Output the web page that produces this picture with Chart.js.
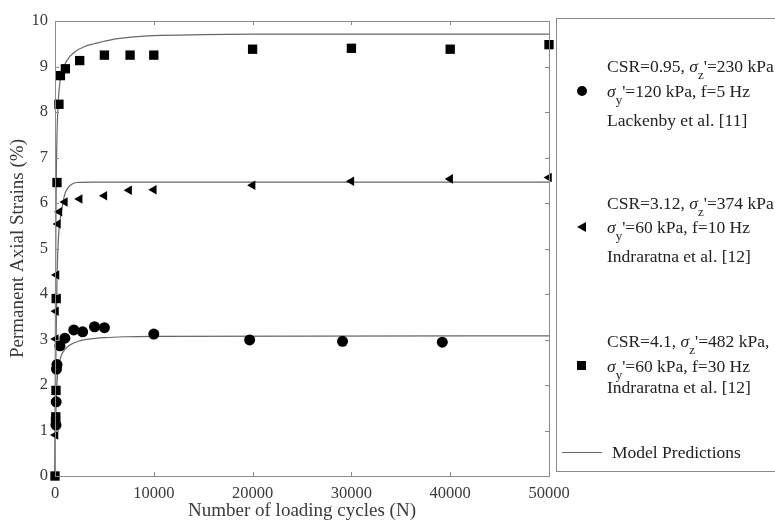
<!DOCTYPE html>
<html>
<head>
<meta charset="utf-8">
<script src="https://cdn.jsdelivr.net/npm/chart.js@4.4.1/dist/chart.umd.min.js"></script>
<style>
    body { margin: 0; background: #fff; overflow: hidden; }
    #wrap { position: relative; width: 775px; height: 522px; overflow: hidden; font-family: "Liberation Serif", "Times New Roman", serif; color: #222; }
    #graphique { position: absolute; left: 0; top: 0; }
    #legende { position: absolute; left: 556px; top: 18px; width: 219px; height: 454px; border: 1px solid #8a8a8a; border-right: none; box-sizing: border-box; }
    .ligne { position: absolute; left: 607px; font-size: 17.5px; line-height: 20px; white-space: nowrap; }
    .ligne sub { font-size: 13px; vertical-align: -7px; line-height: 0; }
    .rond { position: absolute; width: 10px; height: 10px; border-radius: 50%; background: #000; }
    .carre { position: absolute; width: 9px; height: 9px; background: #000; }
    .triangle { position: absolute; width: 0; height: 0; border-top: 5px solid transparent; border-bottom: 5px solid transparent; border-right: 9px solid #000; }
    .trait { position: absolute; height: 0; border-top: 1.3px solid #666; }
</style>
</head>
<body>
<div id="wrap">
    <canvas id="graphique" width="775" height="522"></canvas>
    <div id="legende"></div>

    <!-- Lackenby -->
    <div class="ligne" style="top:56px">CSR=0.95, <i>σ</i><sub>z</sub>'=230 kPa</div>
    <div class="rond" style="left:577px; top:86px"></div>
    <div class="ligne" style="top:81px"><i>σ</i><sub>y</sub>'=120 kPa, f=5 Hz</div>
    <div class="ligne" style="top:110px">Lackenby et al. [11]</div>

    <!-- Indraratna 10 Hz -->
    <div class="ligne" style="top:193px">CSR=3.12, <i>σ</i><sub>z</sub>'=374 kPa</div>
    <div class="triangle" style="left:577px; top:222px"></div>
    <div class="ligne" style="top:217px"><i>σ</i><sub>y</sub>'=60 kPa, f=10 Hz</div>
    <div class="ligne" style="top:246px">Indraratna et al. [12]</div>

    <!-- Indraratna 30 Hz -->
    <div class="ligne" style="top:331px">CSR=4.1, <i>σ</i><sub>z</sub>'=482 kPa,</div>
    <div class="carre" style="left:577px; top:361px"></div>
    <div class="ligne" style="top:356px"><i>σ</i><sub>y</sub>'=60 kPa, f=30 Hz</div>
    <div class="ligne" style="top:377px">Indraratna et al. [12]</div>

    <div class="trait" style="left:562px; top:452px; width:40px"></div>
    <div class="ligne" style="left:612px; top:442px">Model Predictions</div>
</div>

<script>
// ---------------- DONNÉES ---------------- //
// Lackenby et al. [11] - CSR=0.95 (ronds)
const cyclesLackenby = [100, 120, 150, 200, 500, 1000, 1900, 2800, 4000, 5000, 10000, 19700, 29100, 39200];
const strainsLackenby = [1.12, 1.63, 2.35, 2.45, 2.86, 3.03, 3.21, 3.17, 3.28, 3.26, 3.12, 2.99, 2.96, 2.94];

// Indraratna et al. [12] - CSR=3.12 (triangles)
const cyclesIndra10 = [50, 80, 100, 150, 300, 450, 1000, 2500, 5000, 7500, 10000, 20000, 30000, 40000, 50000];
const strainsIndra10 = [0.9, 3.01, 3.62, 4.42, 5.54, 5.81, 6.02, 6.09, 6.16, 6.28, 6.29, 6.39, 6.48, 6.53, 6.56];

// Indraratna et al. [12] - CSR=4.1 (carrés)
const cyclesIndra30 = [0, 50, 80, 100, 120, 200, 400, 550, 1050, 2500, 5000, 7600, 10000, 20000, 30000, 40000, 50000];
const strainsIndra30 = [0, 1.2, 1.3, 1.88, 3.9, 6.45, 8.17, 8.8, 8.95, 9.13, 9.25, 9.25, 9.25, 9.38, 9.4, 9.38, 9.48];

// Prédictions du modèle
const modelCyclesLow = [0, 50, 100, 200, 300, 500, 700, 1000, 1500, 2500, 3500, 5000, 7000, 10000, 50000];
const modelStrainsLow = [0, 0.9, 1.5, 2.05, 2.3, 2.55, 2.68, 2.78, 2.88, 2.97, 3.01, 3.04, 3.06, 3.07, 3.08];

const modelCyclesMid = [0, 50, 100, 200, 300, 400, 600, 800, 1000, 1300, 1700, 2200, 4000, 50000];
const modelStrainsMid = [0, 1.5, 2.8, 4.3, 5.0, 5.4, 5.75, 6.0, 6.2, 6.33, 6.41, 6.45, 6.46, 6.46];

const modelCyclesHigh = [0, 30, 60, 100, 150, 200, 300, 400, 600, 800, 1000, 1500, 2000, 3000, 4000, 6000, 8000, 10000, 15000, 20000, 50000];
const modelStrainsHigh = [0, 2.5, 4.3, 5.8, 6.9, 7.5, 8.1, 8.45, 8.8, 8.95, 9.05, 9.22, 9.32, 9.44, 9.5, 9.6, 9.65, 9.68, 9.7, 9.71, 9.71];

const xTicks = [0, 10000, 20000, 30000, 40000, 50000];
const yTicks = [0, 1, 2, 3, 4, 5, 6, 7, 8, 9, 10];

function toPoints(xs, ys) {
    return xs.map((x, i) => ({ x: x, y: ys[i] }));
}

const police = 'Liberation Serif';
const gris = '#8a8a8a';

// Cadre + graduations vers l'intérieur (style MATLAB)
const cadrePlugin = {
    id: 'cadre',
    afterDraw(chart) {
        const ctx = chart.ctx;
        const a = chart.chartArea;
        const sx = chart.scales.x;
        const sy = chart.scales.y;
        ctx.save();
        ctx.strokeStyle = gris;
        ctx.lineWidth = 1;
        ctx.strokeRect(Math.round(a.left) + 0.5, Math.round(a.top) + 0.5, Math.round(a.right - a.left), Math.round(a.bottom - a.top));
        ctx.beginPath();
        xTicks.forEach(v => {
            const px = Math.round(sx.getPixelForValue(v)) + 0.5;
            ctx.moveTo(px, a.bottom); ctx.lineTo(px, a.bottom - 4);
            ctx.moveTo(px, a.top); ctx.lineTo(px, a.top + 4);
        });
        yTicks.forEach(v => {
            const py = Math.round(sy.getPixelForValue(v)) + 0.5;
            ctx.moveTo(a.left, py); ctx.lineTo(a.left + 4, py);
            ctx.moveTo(a.right, py); ctx.lineTo(a.right - 4, py);
        });
        ctx.stroke();
        ctx.restore();
    }
};

const styleModele = {
    type: 'line',
    showLine: true,
    borderColor: '#666',
    borderWidth: 1.2,
    pointRadius: 0,
    fill: false,
    cubicInterpolationMode: 'monotone',
    order: 2
};

new Chart(document.getElementById('graphique').getContext('2d'), {
    type: 'scatter',
    data: {
        datasets: [
            { label: 'Lackenby', data: toPoints(cyclesLackenby, strainsLackenby), pointStyle: 'circle', pointRadius: 5.5, backgroundColor: '#000', borderColor: '#000', borderWidth: 0, order: 1 },
            { label: 'Indraratna 10 Hz', data: toPoints(cyclesIndra10, strainsIndra10), pointStyle: 'triangle', pointRotation: -90, pointRadius: 5.5, backgroundColor: '#000', borderColor: '#000', borderWidth: 0, order: 1 },
            { label: 'Indraratna 30 Hz', data: toPoints(cyclesIndra30, strainsIndra30), pointStyle: 'rect', pointRadius: 6.6, backgroundColor: '#000', borderColor: '#000', borderWidth: 0, order: 1 },
            Object.assign({ label: 'Modèle 1', data: toPoints(modelCyclesLow, modelStrainsLow) }, styleModele),
            Object.assign({ label: 'Modèle 2', data: toPoints(modelCyclesMid, modelStrainsMid) }, styleModele),
            Object.assign({ label: 'Modèle 3', data: toPoints(modelCyclesHigh, modelStrainsHigh) }, styleModele)
        ]
    },
    options: {
        responsive: false,
        animation: false,
        clip: false,
        layout: { padding: { left: 0, top: 21, right: 226, bottom: 0 } },
        plugins: {
            legend: { display: false },
            tooltip: { enabled: false }
        },
        scales: {
            x: {
                type: 'linear',
                min: 0,
                max: 50000,
                afterBuildTicks: scale => { scale.ticks = xTicks.map(v => ({ value: v })); },
                afterFit: scale => { scale.height = 46; },
                grid: { display: false, drawTicks: false },
                border: { display: false },
                ticks: {
                    padding: 8,
                    color: '#3a3a3a',
                    font: { family: police, size: 16.5 },
                    maxRotation: 0,
                    callback: v => String(v)
                },
                title: {
                    display: true,
                    text: 'Number of loading cycles (N)',
                    color: '#3a3a3a',
                    font: { family: police, size: 19 },
                    padding: { top: 0, bottom: 0 }
                }
            },
            y: {
                type: 'linear',
                min: 0,
                max: 10,
                afterBuildTicks: scale => { scale.ticks = yTicks.map(v => ({ value: v })); },
                afterFit: scale => { scale.width = 55; },
                grid: { display: false, drawTicks: false },
                border: { display: false },
                ticks: {
                    padding: 7,
                    color: '#3a3a3a',
                    font: { family: police, size: 16.5 },
                    callback: v => String(v)
                },
                title: {
                    display: true,
                    text: 'Permanent Axial Strains (%)',
                    color: '#3a3a3a',
                    font: { family: police, size: 19 },
                    padding: { top: 7, bottom: 0 }
                }
            }
        }
    },
    plugins: [cadrePlugin]
});
</script>
</body>
</html>
